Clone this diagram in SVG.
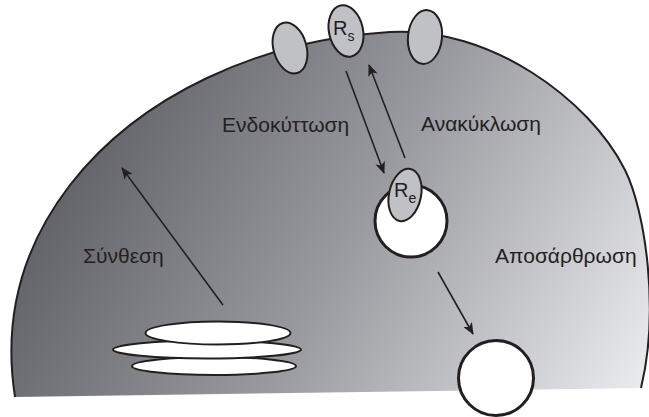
<svg xmlns="http://www.w3.org/2000/svg" width="649" height="417" viewBox="0 0 649 417">
  <defs>
    <linearGradient id="cellFill" gradientUnits="userSpaceOnUse" x1="60" y1="90" x2="630" y2="400">
      <stop offset="0" stop-color="#5a5b60"/>
      <stop offset="0.5" stop-color="#999a9f"/>
      <stop offset="1" stop-color="#e9eaec"/>
    </linearGradient>
    <marker id="arrowHead" viewBox="0 0 12 10" refX="11" refY="5" markerWidth="12" markerHeight="10" markerUnits="userSpaceOnUse" orient="auto">
      <path d="M0,0 L12,5 L0,10 L3,5 Z" fill="#231f20"/>
    </marker>
    <style>
      .membrane { fill: none; stroke: #231f20; stroke-width: 2; }
      .receptor { fill: #c0c1c5; stroke: #231f20; stroke-width: 2; }
      .vesicle { fill: #ffffff; stroke: #231f20; stroke-width: 3; }
      .cistern { fill: #ffffff; stroke: #231f20; stroke-width: 2; }
      .flow { fill: none; stroke: #231f20; stroke-width: 1.6; marker-end: url(#arrowHead); }
      .label { font-family: "Liberation Sans", Arial, sans-serif; font-size: 21px; fill: #231f20; }
      .sym { font-family: "Liberation Sans", Arial, sans-serif; font-size: 20px; fill: #231f20; }
      .sub { font-size: 14px; }
    </style>
  </defs>

  <!-- cell body -->
  <g id="cell">
    <path d="M15,397 C3,320 20,250 70,185 C140,95 260,40 390,32 C490,26 590,100 625,170 C645,210 660,310 641,388 Z" fill="url(#cellFill)"/>
    <path class="membrane" d="M15,397 C3,320 20,250 70,185 C140,95 260,40 390,32 C490,26 590,100 625,170 C645,210 660,310 641,388"/>
  </g>

  <!-- Golgi stack -->
  <g id="golgi">
    <ellipse class="cistern" cx="214" cy="366" rx="82" ry="9"/>
    <ellipse class="cistern" cx="207" cy="349.5" rx="94" ry="9"/>
    <ellipse class="cistern" cx="218" cy="333" rx="72.5" ry="11.5"/>
  </g>

  <!-- surface receptors -->
  <g id="receptor-left">
    <ellipse class="receptor" cx="290" cy="48" rx="16.5" ry="26" transform="rotate(-16 290 48)"/>
  </g>
  <g id="receptor-rs">
    <ellipse class="receptor" cx="346" cy="31" rx="17" ry="26" transform="rotate(-12 346 31)"/>
    <text class="sym" x="333" y="35">R<tspan class="sub" dy="6">s</tspan></text>
  </g>
  <g id="receptor-right">
    <ellipse class="receptor" cx="425" cy="37" rx="17" ry="27" transform="rotate(6 425 37)"/>
  </g>

  <!-- endosome with internalised receptor -->
  <g id="endosome">
    <circle class="vesicle" cx="411" cy="221" r="36"/>
    <ellipse class="receptor" cx="405" cy="195" rx="16" ry="26.5" transform="rotate(12 405 195)"/>
    <text class="sym" x="394" y="197">R<tspan class="sub" dy="6">e</tspan></text>
  </g>

  <!-- lysosome -->
  <g id="lysosome">
    <circle class="vesicle" cx="496" cy="378" r="37.5"/>
  </g>

  <!-- pathways -->
  <g id="connectors">
    <line class="flow" x1="223" y1="305" x2="122" y2="168"/>
    <line class="flow" x1="346" y1="71" x2="384" y2="173"/>
    <line class="flow" x1="405" y1="158" x2="369" y2="65"/>
    <line class="flow" x1="438" y1="272" x2="473" y2="334"/>
  </g>

  <!-- process labels -->
  <g id="labels">
    <text class="label" x="222" y="131.5">Ενδοκύττωση</text>
    <text class="label" x="421" y="131">Ανακύκλωση</text>
    <text class="label" x="83" y="263">Σύνθεση</text>
    <text class="label" x="495" y="263">Αποσάρθρωση</text>
  </g>
</svg>
